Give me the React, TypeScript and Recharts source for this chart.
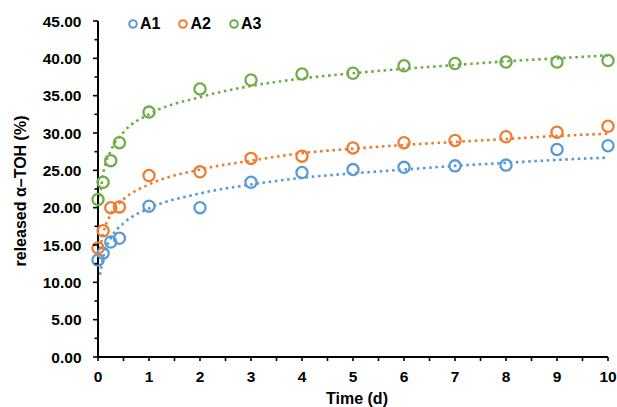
import {
  ComposedChart,
  Scatter,
  Line,
  XAxis,
  YAxis,
  Legend,
} from "recharts";

// measured release data
const TIME = [0, 0.1, 0.25, 0.42, 1, 2, 3, 4, 5, 6, 7, 8, 9, 10];
const A1 = [13.0, 13.9, 15.4, 15.9, 20.2, 20.0, 23.4, 24.7, 25.1, 25.4, 25.6, 25.7, 27.8, 28.3];
const A2 = [14.6, 16.9, 20.0, 20.1, 24.3, 24.8, 26.6, 26.9, 28.0, 28.7, 29.0, 29.5, 30.1, 30.9];
const A3 = [21.1, 23.4, 26.3, 28.7, 32.8, 35.9, 37.1, 37.9, 38.0, 39.0, 39.3, 39.5, 39.5, 39.7];

// dotted trendlines
const TREND_TIME = [0.04, 0.1, 0.25, 0.5, 1, 2, 3, 4, 5, 6, 7, 8, 9, 10];
const A1_TREND = [11.0, 13.3, 15.9, 17.9, 19.9, 21.9, 23.1, 24.0, 24.6, 25.1, 25.6, 26.0, 26.4, 26.7];
const A2_TREND = [14.5, 16.5, 19.1, 21.1, 23.1, 25.1, 26.3, 27.3, 27.9, 28.4, 28.8, 29.2, 29.6, 29.9];
const A3_TREND = [21.5, 24.5, 27.6, 30.1, 32.5, 34.8, 36.3, 37.3, 38.0, 38.6, 39.1, 39.6, 40.0, 40.4];

const X_TICKS = [0, 0.5, 1, 1.5, 2, 2.5, 3, 3.5, 4, 4.5, 5, 5.5, 6, 6.5, 7, 7.5, 8, 8.5, 9, 9.5, 10];
const Y_TICKS = [0, 2.5, 5, 7.5, 10, 12.5, 15, 17.5, 20, 22.5, 25, 27.5, 30, 32.5, 35, 37.5, 40, 42.5, 45];

const SERIES = [
  { name: "A1", color: "#5B9BD5", values: A1, trend: A1_TREND },
  { name: "A2", color: "#ED7D31", values: A2, trend: A2_TREND },
  { name: "A3", color: "#70AD47", values: A3, trend: A3_TREND },
];

const FONT = "'Liberation Sans', Arial, sans-serif";

const toPoints = (xs: number[], ys: number[]) => xs.map((t, i) => ({ t, v: ys[i] }));

const XTick = ({ x, y, payload }: any) => {
  const major = Number.isInteger(payload.value);
  return (
    <g>
      <line x1={x} x2={x} y1={y} y2={y + 4} stroke="#000" strokeWidth={1.6} />
      {major && (
        <text x={x} y={y + 25} textAnchor="middle" fontSize={15.5} fontWeight="bold" fontFamily={FONT} fill="#000">
          {payload.value}
        </text>
      )}
    </g>
  );
};

const YTick = ({ x, y, payload }: any) => {
  const major = payload.value % 5 === 0;
  return (
    <g>
      <line x1={x} x2={x - (major ? 5 : 3.5)} y1={y} y2={y} stroke="#000" strokeWidth={1.6} />
      {major && (
        <text x={x - 16.5} y={y} dy="0.36em" textAnchor="end" fontSize={15.5} fontWeight="bold" fontFamily={FONT} fill="#000">
          {payload.value.toFixed(2)}
        </text>
      )}
    </g>
  );
};

const LegendContent = () => (
  <div style={{ display: "flex", alignItems: "center", height: 20, fontFamily: FONT }}>
    {SERIES.map((s) => (
      <div key={s.name} style={{ display: "flex", alignItems: "center", marginRight: 18 }}>
        <svg width={10} height={10} style={{ marginRight: 2 }}>
          <circle cx={5} cy={5} r={3.8} fill="none" stroke={s.color} strokeWidth={2} />
        </svg>
        <span style={{ fontSize: 16, fontWeight: "bold", color: "#000" }}>{s.name}</span>
      </div>
    ))}
  </div>
);

export default function App() {
  return (
    <div style={{ position: "absolute", left: 0, top: 0, width: 617, height: 407, background: "#fff" }}>
      <ComposedChart width={617} height={407} margin={{ top: 21, right: 9, bottom: 0, left: 0 }}>
        <XAxis
          type="number"
          dataKey="t"
          domain={[0, 10]}
          ticks={X_TICKS}
          interval={0}
          height={50}
          tickSize={0}
          tickMargin={0}
          tickLine={false}
          tick={<XTick />}
          axisLine={{ stroke: "#000", strokeWidth: 2 }}
          label={(p: any) => (
            <text
              x={p.viewBox.x + p.viewBox.width / 2 + 4}
              y={404}
              textAnchor="middle"
              fontSize={16}
              fontWeight="bold"
              fontFamily={FONT}
              fill="#000"
            >
              Time (d)
            </text>
          )}
        />
        <YAxis
          type="number"
          dataKey="v"
          domain={[0, 45]}
          ticks={Y_TICKS}
          interval={0}
          width={98}
          tickSize={0}
          tickMargin={0}
          tickLine={false}
          tick={<YTick />}
          axisLine={{ stroke: "#000", strokeWidth: 2 }}
          label={(p: any) => {
            const cx = 20;
            const cy = p.viewBox.y + p.viewBox.height / 2 + 2;
            return (
              <text
                x={cx}
                y={cy}
                transform={`rotate(-90 ${cx} ${cy})`}
                textAnchor="middle"
                dy="0.36em"
                fontSize={16}
                fontWeight="bold"
                fontFamily={FONT}
                fill="#000"
              >
                released α–TOH (%)
              </text>
            );
          }}
        />
        <Legend
          verticalAlign="middle"
          content={<LegendContent />}
          wrapperStyle={{ top: 14, left: 128, width: "auto" }}
        />
        {SERIES.map((s) => (
          <Line
            key={`${s.name}-trend`}
            data={toPoints(TREND_TIME, s.trend)}
            dataKey="v"
            type="monotone"
            stroke={s.color}
            strokeWidth={2.6}
            strokeDasharray="2.6 3.6"
            dot={false}
            activeDot={false}
            legendType="none"
            isAnimationActive={false}
          />
        ))}
        {SERIES.map((s) => (
          <Scatter
            key={s.name}
            name={s.name}
            data={toPoints(TIME, s.values)}
            dataKey="v"
            fill={s.color}
            isAnimationActive={false}
            shape={(p: any) => (
              <circle cx={p.cx} cy={p.cy} r={5.6} fill="none" stroke={s.color} strokeWidth={2.3} />
            )}
          />
        ))}
      </ComposedChart>
    </div>
  );
}
